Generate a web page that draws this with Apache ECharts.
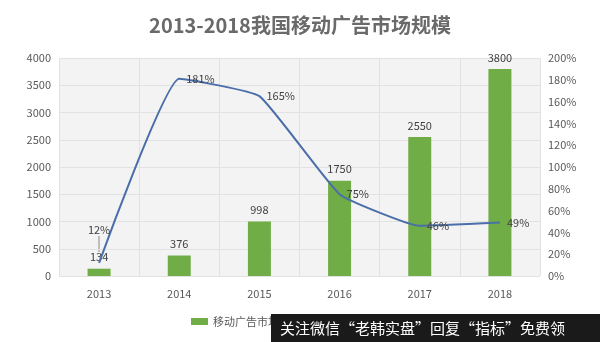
<!DOCTYPE html>
<html><head><meta charset="utf-8">
<script src="https://cdn.jsdelivr.net/npm/echarts@6/dist/echarts.min.js"></script>
<style>html,body{margin:0;padding:0;background:#fff}#c{width:600px;height:342px}</style>
</head><body><div id="c"></div>
<script>
const years = ['2013', '2014', '2015', '2016', '2017', '2018'];
const marketSize = [134, 376, 998, 1750, 2550, 3800];
const growthRate = [12, 181, 165, 75, 46, 49];
const leftTicks = [0, 500, 1000, 1500, 2000, 2500, 3000, 3500, 4000];
const rightTicks = [0, 20, 40, 60, 80, 100, 120, 140, 160, 180, 200];

const font = '"Noto Sans CJK SC", "Noto Sans", sans-serif';
const chart = echarts.init(document.getElementById('c'));
chart.setOption({
  animation: false,
  textStyle: { fontFamily: font },
  title: {
    text: '2013-2018我国移动广告市场规模',
    left: 'center', top: 10,
    textStyle: { fontSize: 20, fontWeight: 'bold', color: '#6a6a6a', fontFamily: font }
  },
  grid: { left: 59, right: 60, top: 58, bottom: 66, backgroundColor: '#f3f3f3', show: true, borderWidth: 0 },
  legend: {
    bottom: 10, left: 186, itemWidth: 17, itemHeight: 7, itemGap: 20,
    textStyle: { color: '#595959', fontSize: 11 },
    data: [{ name: '移动广告市场规模（亿元）', icon: 'rect' }, { name: '增长率' }]
  },
  xAxis: {
    type: 'category', data: years,
    axisLine: { show: false }, axisTick: { show: false },
    axisLabel: { color: '#595959', fontSize: 11, margin: 12 },
    splitLine: { show: true, interval: 0, lineStyle: { color: '#e2e2e2' } }
  },
  yAxis: [
    {
      type: 'value', min: leftTicks[0], max: leftTicks[leftTicks.length - 1], interval: 500,
      axisLabel: { color: '#595959', fontSize: 11, margin: 8, formatter: v => String(v) },
      splitLine: { lineStyle: { color: '#e2e2e2' } }
    },
    {
      type: 'value', min: rightTicks[0], max: rightTicks[rightTicks.length - 1], interval: 20,
      axisLabel: { color: '#595959', fontSize: 11, margin: 8, formatter: '{value}%' },
      splitLine: { show: false }
    }
  ],
  series: [
    {
      name: '移动广告市场规模（亿元）', type: 'bar', data: marketSize, barWidth: 23,
      itemStyle: { color: '#70ad47' },
      label: { show: true, position: 'top', color: '#404040', fontSize: 11, distance: 6 }
    },
    {
      name: '增长率', type: 'line', yAxisIndex: 1, smooth: 0.12,
      showSymbol: true, symbol: 'circle', symbolSize: 0,
      data: growthRate.map((v, i) => i === 0
        ? { value: v, label: { position: 'top', distance: 28 } }
        : { value: v }),
      lineStyle: { color: '#4a6ea9', width: 2 },
      itemStyle: { color: '#4a6ea9' },
      label: { show: true, position: 'right', color: '#404040', fontSize: 11, formatter: '{c}%', distance: 7 }
    }
  ],
  graphic: [
    { type: 'line', shape: { x1: 99, y1: 236, x2: 99, y2: 252 }, style: { stroke: '#888', lineWidth: 1 } },
    { type: 'rect', shape: { x: 271, y: 314, width: 329, height: 28 }, style: { fill: '#1a1a1a' }, z: 100 },
    { type: 'text', x: 280, y: 328, z: 101,
      style: { text: '关注微信“老韩实盘”回复“指标”免费领', fill: '#fff', fontSize: 15, fontFamily: font, verticalAlign: 'middle' } }
  ]
});
</script></body></html>
